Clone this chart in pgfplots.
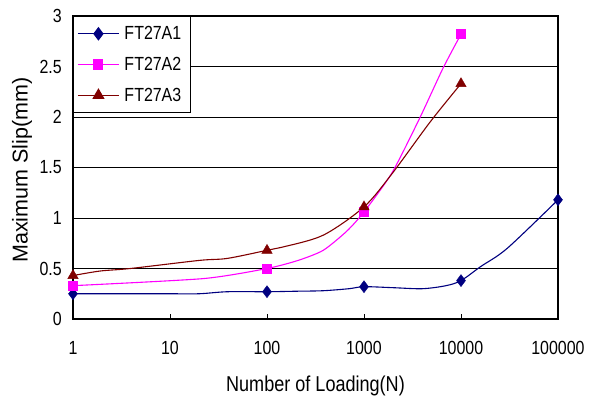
\documentclass[border=0pt]{standalone}
\usepackage{pgfplots}
\pgfplotsset{compat=1.18}
\usepackage{fontspec}
\setmainfont{Liberation Sans}[FakeStretch=0.84]
\newfontfamily\ylfont{Liberation Sans}
\definecolor{navyA}{RGB}{0,0,128}
\definecolor{magA}{RGB}{255,0,255}
\definecolor{redA}{RGB}{128,0,0}
\begin{document}
\begin{tikzpicture}[font=\fontsize{19bp}{22bp}\selectfont]
\begin{semilogxaxis}[
  name=ax,
  scale only axis,
  width=485bp, height=303bp,
  xmin=1, xmax=100000, ymin=0, ymax=3,
  xtick={1,10,100,1000,10000,100000},
  xticklabels={1,10,100,1000,10000,100000},
  xminorticks=false,
  ytick={0,0.5,1,1.5,2,2.5,3},
  yticklabels={0,0.5,1,1.5,2,2.5,3},
  xtick pos=bottom, ytick pos=left,
  tick align=inside,
  major tick length=5bp,
  tick style={black, line width=0.8bp},
  ymajorgrids,
  grid style={black, line width=0.8bp},
  axis line style={line width=2bp},
  clip=false,
  /pgf/number format/assume math mode=true,
  xticklabel style={anchor=north, inner sep=0pt, yshift=-22bp},
  yticklabel style={anchor=east, inner sep=0pt, xshift=-11bp},
  xlabel={Number of Loading(N)},
  ylabel={Maximum Slip(mm)},
  every axis x label/.style={at={(axis description cs:0.5,0)}, anchor=north, inner sep=0pt, yshift=-57bp, font=\fontsize{21.5bp}{24bp}\selectfont},
  every axis y label/.style={at={(axis description cs:-0.126,0.185)}, rotate=90, anchor=north west, inner sep=0pt, font=\ylfont\fontsize{21.5bp}{24bp}\selectfont},
  legend style={at={(0,1)}, anchor=north west, draw=black, line width=0.8bp, fill=white,
    inner xsep=4bp, inner ysep=8bp, row sep=12bp,
    nodes={inner ysep=2bp, inner xsep=5bp, anchor=west}},
  legend cell align=left,
  legend image code/.code={\draw[mark repeat=2,mark phase=2,#1] plot coordinates {(0bp,0bp)(20.5bp,0bp)(41bp,0bp)};},
]
% lines
\addplot[navyA, line width=1.1bp, smooth, forget plot] coordinates {
(1,0.25)(2,0.25)(5,0.25)(10,0.25)(20,0.25)(39,0.27)(100,0.27)(200,0.275)(380,0.28)(700,0.30)(1000,0.32)(2000,0.31)(4000,0.30)(7000,0.33)(10000,0.38)(16000,0.52)(30000,0.70)(100000,1.18)};
\addplot[magA, line width=1.1bp, smooth, tension=0.4, forget plot] coordinates {
(1,0.33)(22,0.40)(100,0.50)(209,0.58)(380,0.68)(665,0.87)(1000,1.06)(1950,1.45)(3800,2.0)(6500,2.48)(10000,2.82)};
\addplot[redA, line width=1.1bp, smooth, forget plot] coordinates {
(1,0.43)(1.9,0.475)(3.9,0.50)(20,0.58)(39,0.60)(100,0.68)(142,0.71)(380,0.83)(1000,1.11)(1950,1.44)(4800,1.95)(10000,2.33)};
% markers
\addplot[only marks, mark=diamond*, mark size=6bp, navyA, forget plot] coordinates {
(1,0.25)(100,0.27)(1000,0.32)(10000,0.38)(100000,1.18)};
\addplot[only marks, mark=square*, mark size=4.5bp, magA, forget plot] coordinates {
(1,0.33)(100,0.50)(1000,1.06)(10000,2.82)};
\addplot[only marks, mark=triangle*, mark size=6bp, redA, forget plot] coordinates {
(1,0.43)(100,0.68)(1000,1.11)(10000,2.33)};
% legend
\addlegendimage{navyA, line width=1.1bp, mark=diamond*, mark size=6bp}
\addlegendentry{FT27A1}
\addlegendimage{magA, line width=1.1bp, mark=square*, mark size=4.5bp}
\addlegendentry{FT27A2}
\addlegendimage{redA, line width=1.1bp, mark=triangle*, mark size=6bp}
\addlegendentry{FT27A3}
\end{semilogxaxis}
\pgfresetboundingbox
\path[use as bounding box] ([xshift=-73bp,yshift=-79bp]ax.south west) rectangle ([xshift=31bp,yshift=16bp]ax.north east);
\end{tikzpicture}
\end{document}
